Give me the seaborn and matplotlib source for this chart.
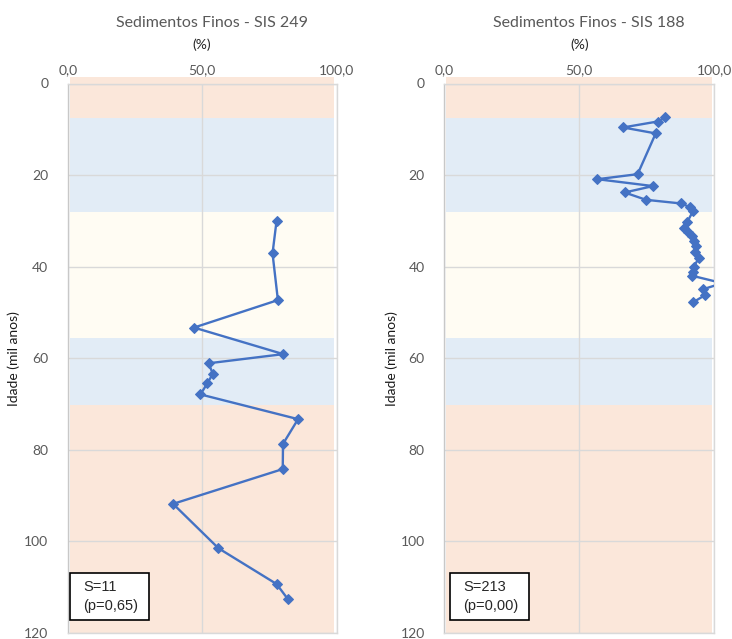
import matplotlib
matplotlib.use("Agg")
import matplotlib.pyplot as plt
from matplotlib.patches import Rectangle
import seaborn as sns
import pandas as pd

# Fine sediment content (%) versus age (ka) for two cores
sis249_age = [30.0, 37.1, 47.3, 53.3, 59.1, 61.1, 63.4, 65.5, 67.9,
              73.3, 78.7, 84.2, 91.8, 101.5, 109.3, 112.6]
sis249_fines = [77.7, 76.2, 78.2, 47.0, 80.2, 52.4, 54.0, 51.9, 49.4,
                85.7, 80.1, 80.0, 39.2, 56.1, 77.7, 81.9]

sis188_age = [7.4, 8.3, 9.6, 10.9, 19.8, 20.9, 22.4, 23.8, 25.4, 26.2,
              27.0, 27.8, 30.2, 31.5, 32.5, 33.4, 34.4, 35.4, 36.7, 38.0,
              40.0, 41.1, 42.0, 43.6, 44.9, 46.2, 47.8]
sis188_fines = [81.9, 79.0, 66.2, 78.3, 71.6, 56.7, 77.3, 66.8, 74.7, 87.7,
                91.0, 92.2, 90.0, 88.8, 90.3, 91.6, 92.3, 93.2, 92.9, 94.4,
                92.4, 92.2, 91.9, 103.0, 96.0, 96.6, 92.1]

# Climatic stage bands (age limits in ka) and their fills
band_edges = [0.0, 7.5, 28.0, 55.6, 70.2, 120.0]
band_colors = ["#FBE7DA", "#E2ECF6", "#FFFCF3", "#E2ECF6", "#FBE7DA"]

panel_titles = ["Sedimentos Finos - SIS 249", "Sedimentos Finos - SIS 188"]
stat_labels = ["S=11\n(p=0,65)", "S=213\n(p=0,00)"]
x_ticks = [0, 50, 100]
x_ticklabels = ["0,0", "50,0", "100,0"]
y_ticks = [0, 20, 40, 60, 80, 100, 120]

sns.set_style("white")
plt.rcParams["font.family"] = ["Lato", "DejaVu Sans"]

W, H = 732, 639
fig = plt.figure(figsize=(W / 100, H / 100), dpi=100)

line_color = "#4472C4"
grid_color = "#D9D9D9"
text_gray = "#595959"

panels = [
    (67.7, 336.5, sis249_age, sis249_fines, 20.0),
    (444.3, 714.3, sis188_age, sis188_fines, 398.0),
]
top_px, bot_px = 83.5, 633.0

for i, (x0, x1, ages, fines, ylab_px) in enumerate(panels):
    ax = fig.add_axes([x0 / W, 1 - bot_px / H, (x1 - x0) / W, (bot_px - top_px) / H])
    ax.set_xlim(0, 100)
    ax.set_ylim(120, 0)

    # stage bands
    for k, c in enumerate(band_colors):
        lo, hi = band_edges[k], band_edges[k + 1]
        if k == 0:
            lo = -1.5
        ax.add_patch(Rectangle((0.8, lo), 98.2, hi - lo, facecolor=c,
                               edgecolor="none", zorder=0, clip_on=False))

    # gridlines over the bands
    for yv in y_ticks:
        ax.axhline(yv, color=grid_color, lw=1.0, zorder=1)
    for xv in x_ticks:
        ax.axvline(xv, color=grid_color, lw=1.0, zorder=1)

    df = pd.DataFrame({"fines": fines, "age": ages})
    sns.lineplot(data=df, x="fines", y="age", orient="y", sort=True,
                 estimator=None, color=line_color, lw=1.7, marker="D",
                 markersize=5.5, markeredgecolor=line_color, ax=ax, zorder=3)

    ax.xaxis.tick_top()
    ax.set_xticks(x_ticks)
    ax.set_xticklabels(x_ticklabels)
    ax.set_yticks(y_ticks)
    ax.tick_params(axis="x", length=0, pad=5, labelsize=10, labelcolor=text_gray)
    ax.tick_params(axis="y", length=0, pad=14, labelsize=10, labelcolor=text_gray)
    ax.set_xlabel("")
    ax.set_ylabel("Idade (mil anos)", fontsize=10, color="#1A1A1A")
    ax.yaxis.set_label_coords((ylab_px - x0) / (x1 - x0), 0.5)
    ax.grid(False)
    for side, sp in ax.spines.items():
        sp.set_color(grid_color)
        sp.set_linewidth(1.0)
    ax.spines["left"].set_color("#C8C8C8")

    # titles
    cx = (x0 + x1) / 2
    fig.text((cx + 10) / W, 1 - 23 / H, panel_titles[i], ha="center", va="center",
             fontsize=11.5, color=text_gray)
    fig.text(cx / W, 1 - 45 / H, "(%)", ha="center", va="center",
             fontsize=10, color="#262626")

    # Mann-Kendall statistic box
    bx = 0.009 if i == 0 else 0.021
    ax.add_patch(Rectangle((bx, 0.024), 0.292, 0.0855, transform=ax.transAxes,
                           facecolor="white", edgecolor="black", lw=1.2, zorder=5))
    ax.text(bx + 0.048, 0.024 + 0.0855 / 2, stat_labels[i], transform=ax.transAxes,
            ha="left", va="center", fontsize=10.5, family=["Liberation Sans"],
            linespacing=1.45, zorder=6)

fig.savefig("out.png", dpi=100)
